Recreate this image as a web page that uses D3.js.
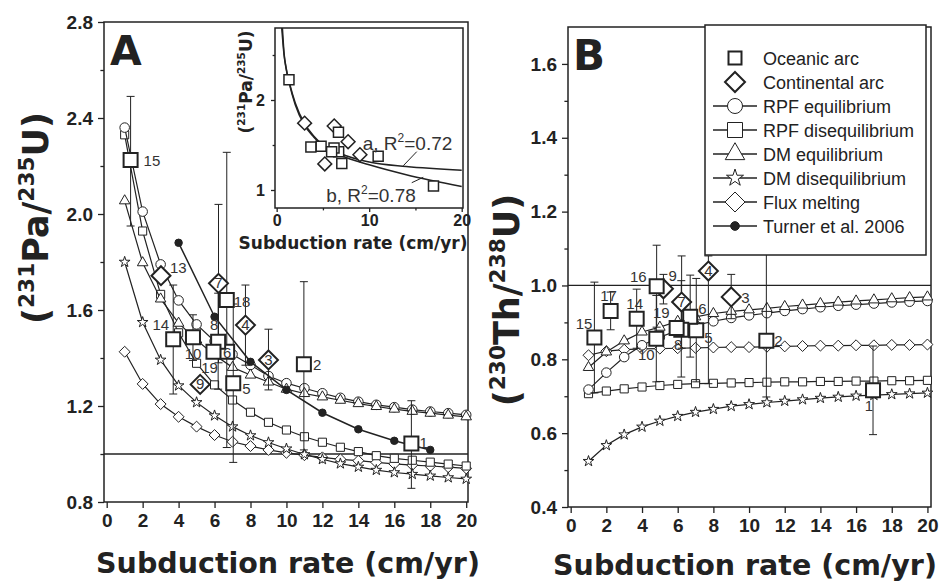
<!DOCTYPE html>
<html>
<head>
  <meta charset="utf-8">
  <title>Pa and Th excesses vs subduction rate</title>
  <script src="https://cdn.jsdelivr.net/npm/d3@7/dist/d3.min.js"></script>
  <style>
    body { margin: 0; background: #fff; }
    svg { display: block; }
  </style>
</head>
<body>
<svg id="chart"></svg>
<script>
// subduction rates used by the melting models (cm/yr)
const rates = [1, 2, 3, 4, 5, 6, 7, 8, 9, 10, 11, 12, 13, 14, 15, 16, 17, 18, 19, 20];

// panel A, (231Pa/235U) model curves
const paRpfEq  = [2.36, 2.01, 1.79, 1.64, 1.54, 1.47, 1.415, 1.371, 1.325, 1.295, 1.274, 1.253, 1.234, 1.218, 1.205, 1.195, 1.185, 1.177, 1.17, 1.163];
const paRpfDis = [2.33, 1.929, 1.665, 1.505, 1.378, 1.288, 1.225, 1.174, 1.132, 1.1, 1.072, 1.049, 1.028, 1.01, 0.993, 0.982, 0.974, 0.966, 0.958, 0.95];
const paDmEq   = [2.055, 1.797, 1.646, 1.545, 1.475, 1.412, 1.361, 1.329, 1.3, 1.27, 1.252, 1.238, 1.224, 1.21, 1.198, 1.187, 1.178, 1.17, 1.162, 1.155];
const paDmDis  = [1.8, 1.549, 1.392, 1.285, 1.215, 1.16, 1.114, 1.077, 1.048, 1.022, 0.998, 0.978, 0.96, 0.946, 0.933, 0.923, 0.916, 0.909, 0.902, 0.896];
const paFlux   = [1.426, 1.292, 1.208, 1.155, 1.114, 1.079, 1.051, 1.033, 1.017, 1.005, 0.995, 0.986, 0.978, 0.972, 0.965, 0.959, 0.954, 0.95, 0.945, 0.94];

// Turner et al. 2006
const turnerRate = [4, 6, 8, 10, 12, 14, 16, 18];
const turnerPa   = [1.88, 1.572, 1.384, 1.267, 1.172, 1.103, 1.055, 1.017];

// panel B, (230Th/238U) model curves
const thRpfEq  = [0.718, 0.764, 0.806, 0.838, 0.86, 0.878, 0.892, 0.903, 0.912, 0.919, 0.925, 0.931, 0.936, 0.941, 0.945, 0.948, 0.951, 0.954, 0.956, 0.958];
const thRpfDis = [0.707, 0.714, 0.72, 0.725, 0.729, 0.732, 0.734, 0.735, 0.736, 0.737, 0.738, 0.739, 0.739, 0.74, 0.74, 0.741, 0.741, 0.742, 0.742, 0.743];
const thDmEq   = [0.778, 0.82, 0.85, 0.874, 0.887, 0.903, 0.915, 0.924, 0.93, 0.934, 0.938, 0.943, 0.947, 0.951, 0.955, 0.958, 0.961, 0.964, 0.967, 0.969];
const thDmDis  = [0.524, 0.567, 0.596, 0.617, 0.633, 0.646, 0.657, 0.665, 0.673, 0.678, 0.683, 0.687, 0.691, 0.695, 0.698, 0.701, 0.703, 0.705, 0.707, 0.709];
const thFlux   = [0.811, 0.822, 0.826, 0.828, 0.829, 0.83, 0.831, 0.832, 0.833, 0.833, 0.834, 0.835, 0.836, 0.837, 0.837, 0.838, 0.838, 0.839, 0.839, 0.84];

// arc samples
const sampleId   = ["1", "2", "3", "4", "5", "6", "7", "8", "9", "10", "13", "14", "15", "16", "17", "18", "19"];
const sampleArc  = ["oceanic", "oceanic", "continental", "continental", "oceanic", "oceanic", "continental", "oceanic", "continental", "oceanic", "continental", "oceanic", "oceanic", "oceanic", "oceanic", "oceanic", "oceanic"];
const sampleRate = [16.95, 10.97, 9.0, 7.72, 7.04, 6.7, 6.22, 6.2, 5.2, 4.8, 3.02, 3.7, 1.33, 4.82, 2.24, 6.68, 5.94];
const samplePa   = [1.044, 1.374, 1.392, 1.537, 1.295, 1.426, 1.711, 1.468, 1.29, 1.486, 1.743, 1.478, 2.225, null, null, 1.642, 1.426];
const samplePaLo = [0.857, 1.017, 1.267, 1.37, 0.965, null, 1.38, 1.27, null, 1.39, null, 1.25, 1.95, null, null, 1.027, null];
const samplePaHi = [1.222, 1.718, 1.52, 1.704, 1.625, null, 2.04, 1.67, null, 1.58, null, 1.704, 2.49, null, null, 2.257, null];
const sampleTh   = [0.716, 0.85, 0.969, 1.039, 0.879, 0.915, 0.955, 0.88, 0.991, 0.856, null, 0.91, 0.859, 0.998, 0.931, null, 0.885];
const sampleThLo = [0.596, 0.698, 0.91, 0.734, 0.739, 0.806, 0.83, 0.752, 0.95, 0.739, null, 0.83, 0.709, 0.887, 0.88, null, null];
const sampleThHi = [0.836, 1.12, 1.03, 1.08, 1.019, 1.028, 1.08, 1.013, 1.03, 0.973, null, 0.99, 1.009, 1.109, 0.982, null, null];

// inset power-law fits
const fitARate = [0.55, 0.8, 1.0, 1.4, 2, 3, 4, 5, 7, 10, 14, 20];
const fitAPa   = [2.8, 2.5, 2.36, 2.18, 1.97, 1.74, 1.6, 1.5, 1.4, 1.31, 1.26, 1.22];
const fitBRate = [0.62, 0.8, 1.0, 1.4, 2, 3, 4, 5, 7, 10, 14, 20];
const fitBPa   = [2.8, 2.52, 2.37, 2.17, 1.95, 1.72, 1.59, 1.49, 1.38, 1.28, 1.17, 1.04];

const legendNames = ["Oceanic arc", "Continental arc", "RPF equilibrium", "RPF disequilibrium",
  "DM equilibrium", "DM disequilibrium", "Flux melting", "Turner et al. 2006"];

// label placement beside each sample: [dx, dy, anchor]
const labelPosA = {
  "15": [13, 6, "start"], "13": [9, -3, "start"], "14": [-4, -9, "end"], "10": [0, 22, "middle"],
  "9": [0, 5, "middle"], "19": [-4, 21, "middle"], "8": [-4, -12, "middle"], "7": [0, 5, "middle"],
  "6": [0, 6, "middle"], "18": [7, 7, "start"], "5": [9, 11, "start"], "4": [0, 5, "middle"],
  "3": [0, 5, "middle"], "2": [9, 6, "start"], "1": [8, 5, "start"]
};
const labelPosB = {
  "15": [-2, -9, "end"], "17": [-2, -10, "middle"], "14": [-2, -10, "middle"], "16": [-10, -4, "end"],
  "10": [-10, 21, "middle"], "19": [-7, -10, "end"], "8": [-3, 20, "middle"], "9": [5, -8, "start"],
  "7": [0, 5, "middle"], "6": [8, -3, "start"], "5": [8, 13, "start"], "4": [0, 5, "middle"],
  "3": [10, 6, "start"], "2": [8, 5, "start"], "1": [-4, 21, "middle"]
};

const ink = "#222";
const boldFont = "'DejaVu Sans', sans-serif";
const tickFont = "'Liberation Sans', Arial, sans-serif";

// square turned 45 degrees
const diamond45 = {
  draw(ctx, size) {
    const r = Math.sqrt(size / 2);
    ctx.moveTo(0, -r); ctx.lineTo(r, 0); ctx.lineTo(0, r); ctx.lineTo(-r, 0); ctx.closePath();
  }
};

const svg = d3.select("#chart").attr("width", 940).attr("height", 583)
  .style("background", "#fff");

const xA = d3.scaleLinear().domain([-0.15, 20.1]).range([104, 468]);
const yA = d3.scaleLinear().domain([0.8, 2.8]).range([502, 22]);
const xB = d3.scaleLinear().domain([-0.15, 20.2]).range([568, 931]);
const yB = d3.scaleLinear().domain([0.4, 1.7]).range([507, 27]);
const xI = d3.scaleLinear().domain([-0.18, 20.14]).range([275, 463]);
const yI = d3.scaleLinear().domain([0.8, 2.8]).range([208, 28]);

const evenRates = [0, 2, 4, 6, 8, 10, 12, 14, 16, 18, 20];

function styleAxis(s, size) {
  s.select(".domain").remove();
  s.selectAll(".tick line").attr("stroke", ink).attr("stroke-width", 1.3);
  s.selectAll(".tick text").attr("fill", ink).attr("font-family", tickFont)
    .attr("font-weight", "bold").attr("font-size", size);
}

function frame(g, x, y, xTicks, yMajor, yMinor, opt) {
  const [x0, x1] = x.range(), [y0, y1] = y.range();
  g.append("rect").attr("x", x0).attr("y", y1).attr("width", x1 - x0).attr("height", y0 - y1)
    .attr("fill", opt.fill || "none");
  g.append("g").attr("transform", `translate(0,${y0})`)
    .call(d3.axisBottom(x).tickValues(xTicks).tickSize(opt.tick).tickSizeOuter(0)
      .tickPadding(opt.padX).tickFormat(d3.format("d")))
    .call(s => styleAxis(s, opt.font));
  if (opt.xMinor) {
    g.append("g").attr("transform", `translate(0,${y0})`)
      .call(d3.axisBottom(x).tickValues(opt.xMinor).tickSize(opt.tick * 0.6).tickFormat(""))
      .call(s => styleAxis(s, opt.font));
  }
  g.append("g").attr("transform", `translate(${x0},0)`)
    .call(d3.axisLeft(y).tickValues(yMajor).tickSize(opt.tick).tickSizeOuter(0)
      .tickPadding(opt.padY).tickFormat(opt.fmtY))
    .call(s => styleAxis(s, opt.font));
  g.append("g").attr("transform", `translate(${x0},0)`)
    .call(d3.axisLeft(y).tickValues(yMinor).tickSize(opt.tick * 0.6).tickFormat(""))
    .call(s => styleAxis(s, opt.font));
  g.append("rect").attr("x", x0).attr("y", y1).attr("width", x1 - x0).attr("height", y0 - y1)
    .attr("fill", "none").attr("stroke", ink).attr("stroke-width", 1.5);
}

function refLine(g, x, y, v) {
  g.append("line").attr("x1", x.range()[0]).attr("x2", x.range()[1])
    .attr("y1", y(v)).attr("y2", y(v)).attr("stroke", ink).attr("stroke-width", 1.3);
}

function model(g, x, y, xs, ys, shape, size, filled) {
  const pts = d3.zip(xs, ys);
  g.append("path").datum(pts).attr("fill", "none").attr("stroke", ink)
    .attr("stroke-width", filled ? 1.5 : 1.2)
    .attr("d", d3.line().x(d => x(d[0])).y(d => y(d[1])));
  g.append("g").selectAll("path").data(pts).join("path")
    .attr("transform", d => `translate(${x(d[0])},${y(d[1])})`)
    .attr("d", d3.symbol(shape, size))
    .attr("fill", filled ? ink : "white").attr("stroke", ink).attr("stroke-width", 1);
}

function samples(g, x, y, vals, lo, hi, labelPos, big) {
  const rows = sampleId.map((id, i) => ({ id, arc: sampleArc[i], r: sampleRate[i], v: vals[i], lo: lo[i], hi: hi[i] }))
    .filter(d => d.v != null);
  if (big) {
    const eb = g.append("g").attr("stroke", ink).attr("stroke-width", 1);
    rows.filter(d => d.lo != null).forEach(d => {
      const cx = x(d.r);
      eb.append("line").attr("x1", cx).attr("x2", cx).attr("y1", y(d.lo)).attr("y2", y(d.hi));
      eb.append("line").attr("x1", cx - 4).attr("x2", cx + 4).attr("y1", y(d.lo)).attr("y2", y(d.lo));
      eb.append("line").attr("x1", cx - 4).attr("x2", cx + 4).attr("y1", y(d.hi)).attr("y2", y(d.hi));
    });
  }
  const sq = big ? 196 : 100, di = big ? 180 : 96;
  g.append("g").selectAll("path").data(rows).join("path")
    .attr("transform", d => `translate(${x(d.r)},${y(d.v)})`)
    .attr("d", d => d.arc === "oceanic" ? d3.symbol(d3.symbolSquare, sq)() : d3.symbol(diamond45, di)())
    .attr("fill", "white").attr("stroke", ink).attr("stroke-width", big ? 2 : 1.5);
  if (big) {
    g.append("g").attr("font-family", tickFont).attr("font-size", 15).attr("fill", "#333")
      .selectAll("text").data(rows.filter(d => labelPos[d.id])).join("text")
      .attr("x", d => x(d.r) + labelPos[d.id][0])
      .attr("y", d => y(d.v) + labelPos[d.id][1])
      .attr("text-anchor", d => labelPos[d.id][2])
      .text(d => d.id);
  }
}

function isoText(sel, parts, fs) {
  let cur = 0;
  parts.forEach(([t, sup]) => {
    const off = sup ? -0.4 * fs : 0;
    sel.append("tspan").attr("dy", off - cur).attr("font-size", sup ? 0.62 * fs : fs).text(t);
    cur = off;
  });
}

function title(x, y, rot, parts, fs) {
  const t = svg.append("text")
    .attr("transform", `translate(${x},${y})` + (rot ? " rotate(-90)" : ""))
    .attr("text-anchor", "middle").attr("font-family", boldFont).attr("font-weight", "bold")
    .attr("font-size", fs).attr("fill", ink);
  isoText(t, parts, fs);
}

// ---------- panel A ----------
const gA = svg.append("g");
frame(gA, xA, yA, evenRates, [0.8, 1.2, 1.6, 2.0, 2.4, 2.8], [1.0, 1.4, 1.8, 2.2, 2.6],
  { tick: 6, padX: 6, padY: 5, font: 19, fmtY: d3.format(".1f") });
refLine(gA, xA, yA, 1.0);
model(gA, xA, yA, rates, paFlux, diamond45, 60, false);
model(gA, xA, yA, rates, paDmDis, d3.symbolStar, 36, false);
model(gA, xA, yA, rates, paRpfDis, d3.symbolSquare, 66, false);
model(gA, xA, yA, rates, paRpfEq, d3.symbolCircle, 72, false);
model(gA, xA, yA, rates, paDmEq, d3.symbolTriangle, 48, false);
model(gA, xA, yA, turnerRate, turnerPa, d3.symbolCircle, 44, true);
samples(gA, xA, yA, samplePa, samplePaLo, samplePaHi, labelPosA, true);

gA.append("text").attr("x", 110).attr("y", 65).attr("font-family", boldFont)
  .attr("font-weight", "bold").attr("font-size", 41).attr("fill", ink).text("A");

// inset
const gI = svg.append("g");
frame(gI, xI, yI, [0, 10, 20], [1, 2], [1.5, 2.5],
  { tick: 4, padX: 3, padY: 6, font: 16, fmtY: d3.format("d"), xMinor: [5, 15], fill: "white" });
[[fitARate, fitAPa], [fitBRate, fitBPa]].forEach(([xs, ys]) => {
  gI.append("path").datum(d3.zip(xs, ys)).attr("fill", "none").attr("stroke", ink).attr("stroke-width", 1.5)
    .attr("d", d3.line().x(d => xI(d[0])).y(d => yI(d[1])).curve(d3.curveMonotoneX));
});
samples(gI, xI, yI, samplePa, samplePaLo, samplePaHi, labelPosA, false);
gI.append("line").attr("x1", xI(15.14)).attr("y1", yI(1.426)).attr("x2", xI(13.69)).attr("y2", yI(1.27))
  .attr("stroke", ink).attr("stroke-width", 1);
gI.append("line").attr("x1", xI(14.6)).attr("y1", yI(1.081)).attr("x2", xI(15.85)).attr("y2", yI(1.141))
  .attr("stroke", ink).attr("stroke-width", 1);
[["a, R", "=0.72", xI(9.3), yI(1.44)], ["b, R", "=0.78", xI(5.35), yI(0.87)]].forEach(([a, b, x, y]) => {
  const t = gI.append("text").attr("x", x).attr("y", y).attr("font-family", tickFont)
    .attr("font-size", 19).attr("fill", "#333");
  t.append("tspan").text(a);
  t.append("tspan").attr("dy", -8).attr("font-size", 12).text("2");
  t.append("tspan").attr("dy", 8).text(b);
});
title(252, 82, true, [["(", 0], ["231", 1], ["Pa/", 0], ["235", 1], ["U)", 0]], 17);
title(353, 249, false, [["Subduction rate (cm/yr)", 0]], 17);

// ---------- panel B ----------
const gB = svg.append("g");
frame(gB, xB, yB, evenRates, [0.4, 0.6, 0.8, 1.0, 1.2, 1.4, 1.6], [0.5, 0.7, 0.9, 1.1, 1.3, 1.5],
  { tick: 6, padX: 6, padY: 5, font: 19, fmtY: d3.format(".1f") });
refLine(gB, xB, yB, 1.0);
model(gB, xB, yB, rates, thFlux, diamond45, 60, false);
model(gB, xB, yB, rates, thDmDis, d3.symbolStar, 36, false);
model(gB, xB, yB, rates, thRpfDis, d3.symbolSquare, 66, false);
model(gB, xB, yB, rates, thRpfEq, d3.symbolCircle, 72, false);
model(gB, xB, yB, rates, thDmEq, d3.symbolTriangle, 48, false);
samples(gB, xB, yB, sampleTh, sampleThLo, sampleThHi, labelPosB, true);

gB.append("text").attr("x", 573).attr("y", 70).attr("font-family", boldFont)
  .attr("font-weight", "bold").attr("font-size", 42).attr("fill", ink).text("B");

// legend
const lg = svg.append("g");
lg.append("rect").attr("x", 705).attr("y", 25).attr("width", 221).attr("height", 230)
  .attr("fill", "white").attr("stroke", ink).attr("stroke-width", 1.5);
const legendMark = [
  { shape: d3.symbolSquare, size: 169, line: false, w: 2, fill: "white" },
  { shape: diamond45, size: 200, line: false, w: 2, fill: "white" },
  { shape: d3.symbolCircle, size: 177, line: true, w: 1, fill: "white" },
  { shape: d3.symbolSquare, size: 225, line: true, w: 1, fill: "white" },
  { shape: d3.symbolTriangle, size: 165, line: true, w: 1, fill: "white" },
  { shape: d3.symbolStar, size: 90, line: true, w: 1, fill: "white" },
  { shape: diamond45, size: 200, line: true, w: 1, fill: "white" },
  { shape: d3.symbolCircle, size: 60, line: true, w: 1, fill: ink }
];
legendNames.forEach((name, i) => {
  const y = 58 + i * 24, m = legendMark[i];
  if (m.line) lg.append("line").attr("x1", 713).attr("x2", 757).attr("y1", y).attr("y2", y)
    .attr("stroke", ink).attr("stroke-width", 1.3);
  lg.append("path").attr("transform", `translate(735,${y})`).attr("d", d3.symbol(m.shape, m.size))
    .attr("fill", m.fill).attr("stroke", ink).attr("stroke-width", m.w);
  lg.append("text").attr("x", 763).attr("y", y + 6.5).attr("font-family", tickFont)
    .attr("font-size", 18).attr("fill", ink).text(name);
});

// axis titles
title(48, 218, true, [["(", 0], ["231", 1], ["Pa/", 0], ["235", 1], ["U)", 0]], 35);
title(519, 300, true, [["(", 0], ["230", 1], ["Th/", 0], ["238", 1], ["U)", 0]], 35);
title(288, 573, false, [["Subduction rate (cm/yr)", 0]], 28.5);
title(745, 575, false, [["Subduction rate (cm/yr)", 0]], 28.5);
</script>
</body>
</html>
